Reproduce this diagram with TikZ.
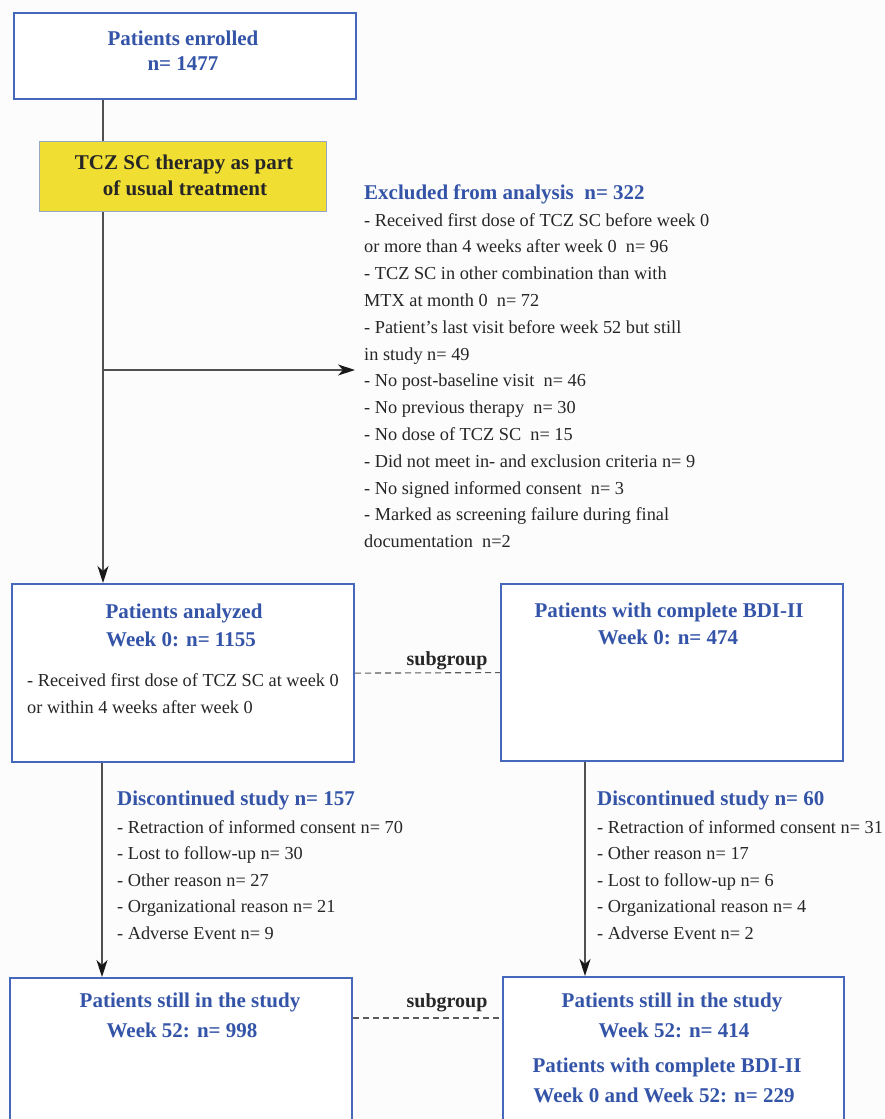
\documentclass[tikz,border=0pt]{standalone}
\usepackage{fontspec}
\setmainfont{Liberation Serif}
\usetikzlibrary{arrows.meta}
\definecolor{hblue}{RGB}{52,84,168}
\definecolor{bblue}{RGB}{70,104,188}
\definecolor{tyellow}{RGB}{240,222,50}
\definecolor{ygray}{RGB}{150,165,200}
\definecolor{lgray}{RGB}{80,80,80}
\definecolor{dgray}{RGB}{90,90,90}
\definecolor{bgc}{RGB}{252,252,252}
\begin{document}
\begin{tikzpicture}[x=1pt,y=-1pt,
  box/.style={draw=bblue, line width=2.2pt, fill=white, inner sep=0pt, anchor=north west},
  ybox/.style={draw=ygray, line width=1.4pt, fill=tyellow, inner sep=0pt, anchor=north west},
  hd/.style={text=hblue, font=\fontsize{21}{25}\selectfont\bfseries, inner sep=0pt},
  bk/.style={text=black!85, font=\fontsize{21}{25}\selectfont\bfseries, inner sep=0pt},
  sg/.style={text=black!85, font=\fontsize{20}{24}\selectfont\bfseries, inner sep=0pt, anchor=base},
  itm/.style={text=black!85, font=\fontsize{18.3}{22}\selectfont, inner sep=0pt, anchor=base west},
  conn/.style={draw=lgray, line width=1.1pt},
  arr/.style={conn, -{Stealth[length=17pt,width=11pt,inset=5pt,color=black!90]}},
  dsh/.style={draw=dgray, line width=1.1pt, dash pattern=on 6pt off 4pt}
]
\useasboundingbox (0,0) rectangle (884,1119);
\clip (0,0) rectangle (884,1119);
\fill[bgc] (0,0) rectangle (884,1119);

% boxes
\node[box, minimum width=342pt, minimum height=86pt] (enr) at (13,12) {};
\node[ybox, minimum width=287pt, minimum height=70pt] (tcz) at (39,141) {};
\node[box, minimum width=342pt, minimum height=178pt] (ana) at (11,583) {};
\node[box, minimum width=342pt, minimum height=177pt] (bdi) at (500,583) {};
\node[box, minimum width=342pt, minimum height=170pt] (s52) at (9,977) {};
\node[box, minimum width=341pt, minimum height=170pt] (s52b) at (502,976) {};

% helper coordinates
\coordinate (xl) at (103,0);
\coordinate (xl2) at (102,0);
\coordinate (xr) at (585,0);
\coordinate (hstart) at (103,370);
\coordinate (hend) at (355,370);
\coordinate (dl) at (0,1018);

% connectors
\draw[conn] (enr.south -| xl) -- (tcz.north -| xl);
\draw[arr] (tcz.south -| xl) -- (ana.north -| xl);
\draw[arr] (hstart) -- (hend);
\draw[arr] (ana.south -| xl2) -- (s52.north -| xl2);
\draw[arr] (bdi.south -| xr) -- (s52b.north -| xr);
\draw[dsh] (ana.east) -- (bdi.west);
\draw[dsh] (s52.east |- dl) -- (s52b.west |- dl);

% box texts
\node[hd, anchor=base] (t1) at (183,45) {Patients enrolled};
\node[hd, anchor=base] (t2) at (183,70) {n= 1477};
\node[bk, anchor=base] (t3) at (184,169) {TCZ SC therapy as part};
\node[bk, anchor=base] (t4) at (185,195) {of usual treatment};

\node[hd, anchor=base] (t5) at (184,618) {Patients analyzed};
\node[hd, anchor=base] (t6) at (181,646) {Week 0: n= 1155};
\node[itm] (t7) at (27,686) {- Received first dose of TCZ SC at week 0};
\node[itm] (t8) at (27,713) {or within 4 weeks after week 0};

\node[hd, anchor=base] (t9) at (669,617) {Patients with complete BDI-II};
\node[hd, anchor=base] (t10) at (668,644) {Week 0: n= 474};

\node[hd, anchor=base] (t11) at (190,1007) {Patients still in the study};
\node[hd, anchor=base] (t12) at (182,1037) {Week 52: n= 998};
\node[hd, anchor=base] (t13) at (672,1007) {Patients still in the study};
\node[hd, anchor=base] (t14) at (674,1037) {Week 52: n= 414};
\node[hd, anchor=base] (t15) at (667,1072) {Patients with complete BDI-II};
\node[hd, anchor=base] (t16) at (664,1102) {Week 0 and Week 52: n= 229};

\node[sg] (sg1) at (447,665) {subgroup};
\node[sg] (sg2) at (447,1007) {subgroup};

% excluded
\node[hd, anchor=base west] (exh) at (364,199) {Excluded from analysis\ \ n= 322};
\foreach \t [count=\i] in {
  {- Received first dose of TCZ SC before week 0},
  {or more than 4 weeks after week 0\ \ n= 96},
  {- TCZ SC in other combination than with},
  {MTX at month 0\ \ n= 72},
  {- Patient's last visit before week 52 but still},
  {in study n= 49},
  {- No post-baseline visit\ \ n= 46},
  {- No previous therapy\ \ n= 30},
  {- No dose of TCZ SC\ \ n= 15},
  {- Did not meet in- and exclusion criteria n= 9},
  {- No signed informed consent\ \ n= 3},
  {- Marked as screening failure during final},
  {documentation\ \ n=2}}
  \node[itm] (ex\i) at (364,{226+(\i-1)*26.8}) {\t};

% discontinued left
\node[hd, anchor=base west] (dlh) at (117,805) {Discontinued study n= 157};
\foreach \t [count=\i] in {
  {- Retraction of informed consent n= 70},
  {- Lost to follow-up n= 30},
  {- Other reason n= 27},
  {- Organizational reason n= 21},
  {- Adverse Event n= 9}}
  \node[itm] (dl\i) at (117,{833+(\i-1)*26.6}) {\t};

% discontinued right
\node[hd, anchor=base west] (drh) at (597,805) {Discontinued study n= 60};
\foreach \t [count=\i] in {
  {- Retraction of informed consent n= 31},
  {- Other reason n= 17},
  {- Lost to follow-up n= 6},
  {- Organizational reason n= 4},
  {- Adverse Event n= 2}}
  \node[itm] (dr\i) at (597,{833+(\i-1)*26.6}) {\t};
\end{tikzpicture}
\end{document}
